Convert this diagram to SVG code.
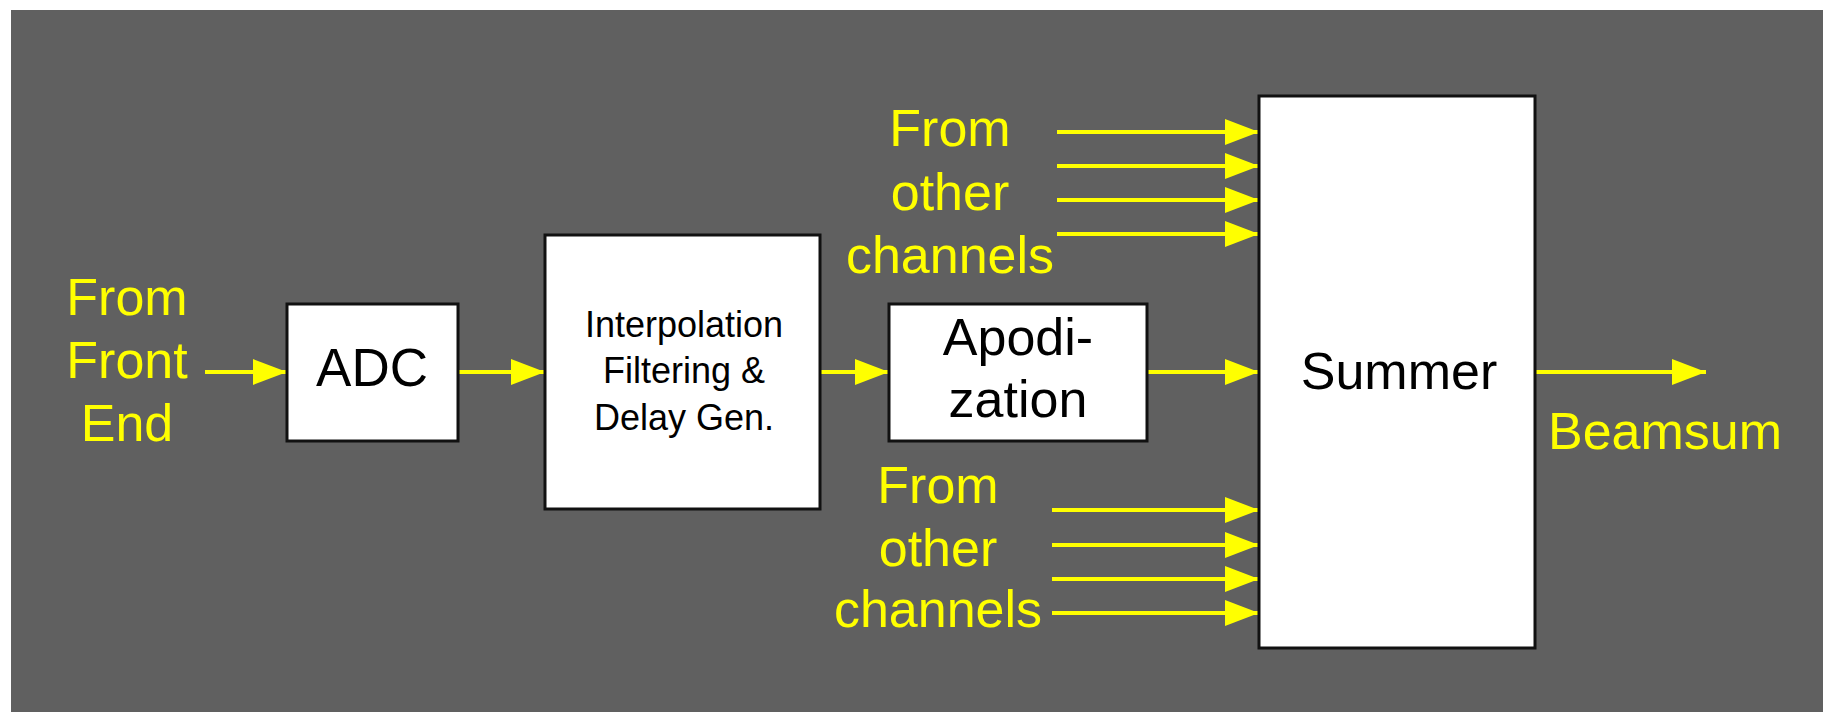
<svg xmlns="http://www.w3.org/2000/svg" width="1823" height="712" viewBox="0 0 1823 712">
<style>
.box{fill:#ffffff;stroke:#111111;stroke-width:3}
.lbl{font-family:"Liberation Sans",Arial,sans-serif;fill:#000000;text-anchor:middle}
.ylbl{font-family:"Liberation Sans",Arial,sans-serif;fill:#ffff00;font-size:52px;text-anchor:middle}
.wire{stroke:#ffff00;stroke-width:4;fill:none;marker-end:url(#ah)}
</style>
<defs>
<marker id="ah" markerUnits="userSpaceOnUse" markerWidth="34" markerHeight="26" refX="34" refY="13" orient="auto">
<path d="M0,0 L34,13 L0,26 Z" fill="#ffff00"/>
</marker>
</defs>
<rect x="0" y="0" width="1823" height="712" fill="#ffffff"/>
<rect x="11" y="10" width="1812" height="702" fill="#606060"/>

<g id="connectors">
<line class="wire" x1="205" y1="372" x2="287" y2="372"/>
<line class="wire" x1="458" y1="372" x2="545" y2="372"/>
<line class="wire" x1="820" y1="372" x2="889" y2="372"/>
<line class="wire" x1="1147" y1="372" x2="1259" y2="372"/>
<line class="wire" x1="1535" y1="372" x2="1706" y2="372"/>
<line class="wire" x1="1057" y1="132" x2="1259" y2="132"/>
<line class="wire" x1="1057" y1="166" x2="1259" y2="166"/>
<line class="wire" x1="1057" y1="200" x2="1259" y2="200"/>
<line class="wire" x1="1057" y1="234" x2="1259" y2="234"/>
<line class="wire" x1="1052" y1="510" x2="1259" y2="510"/>
<line class="wire" x1="1052" y1="545" x2="1259" y2="545"/>
<line class="wire" x1="1052" y1="579" x2="1259" y2="579"/>
<line class="wire" x1="1052" y1="613" x2="1259" y2="613"/>
</g>

<g id="frontend">
<text class="ylbl" x="127" y="315">From</text>
<text class="ylbl" x="127" y="378">Front</text>
<text class="ylbl" x="127" y="441">End</text>
</g>

<g id="adc">
<rect class="box" x="287" y="304" width="171" height="137"/>
<text class="lbl" x="372" y="386" font-size="53">ADC</text>
</g>

<g id="interp">
<rect class="box" x="545" y="235" width="275" height="274"/>
<text class="lbl" x="684" y="337" font-size="36">Interpolation</text>
<text class="lbl" x="684" y="383" font-size="36">Filtering &amp;</text>
<text class="lbl" x="684" y="430" font-size="36">Delay Gen.</text>
</g>

<g id="apod">
<rect class="box" x="889" y="304" width="258" height="137"/>
<text class="lbl" x="1018" y="355" font-size="52">Apodi-</text>
<text class="lbl" x="1018" y="417" font-size="52">zation</text>
</g>

<g id="summer">
<rect class="box" x="1259" y="96" width="276" height="552"/>
<text class="lbl" x="1399" y="389" font-size="52">Summer</text>
</g>

<g id="other-top">
<text class="ylbl" x="950" y="146">From</text>
<text class="ylbl" x="950" y="210">other</text>
<text class="ylbl" x="950" y="273">channels</text>
</g>

<g id="other-bottom">
<text class="ylbl" x="938" y="503">From</text>
<text class="ylbl" x="938" y="566">other</text>
<text class="ylbl" x="938" y="627">channels</text>
</g>

<g id="beamsum">
<text class="ylbl" x="1665" y="449" font-size="54">Beamsum</text>
</g>
</svg>
